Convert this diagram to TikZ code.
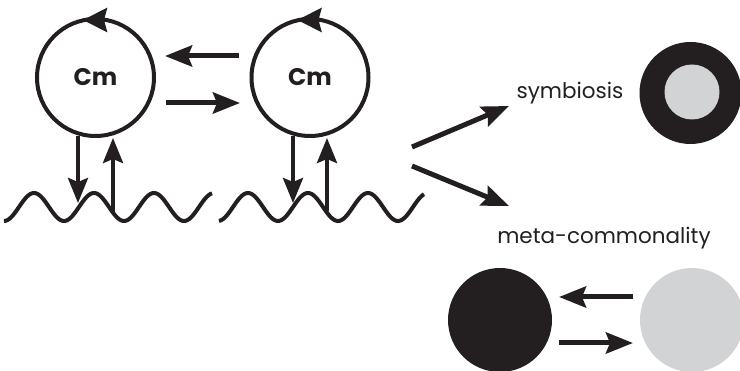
\documentclass[tikz,border=0pt]{standalone}
\usepackage{fontspec}
\setmainfont{Poppins}
\usetikzlibrary{arrows.meta}
\definecolor{ink}{HTML}{231F20}
\definecolor{pale}{HTML}{D1D3D4}
\tikzset{
  cell/.style={circle, draw=ink, line width=4pt, minimum size=117pt, inner sep=0pt, font=\bfseries\fontsize{24}{26}\selectfont, text=ink},
  flow/.style={draw=ink, line width=5pt, -{Stealth[length=27pt,width=21pt,inset=4pt]}},
  vflow/.style={draw=ink, line width=4pt, -{Stealth[length=25pt,width=20pt,inset=4pt]}},
  loop/.style={draw=ink, line width=4pt, -{Stealth[length=24pt,width=24pt,inset=3pt]}},
  wave/.style={draw=ink, line width=4pt},
  lbl/.style={font=\fontsize{21.5}{24}\selectfont, text=ink, inner sep=0pt},
  disc/.style={circle, minimum size=104pt, inner sep=0pt}
}
\begin{document}
\begin{tikzpicture}[x=1pt,y=-1pt]
\useasboundingbox (0,0) rectangle (740,371);
% cells
\node[cell] (c1) at (95.5,77.5) {Cm};
\node[cell] (c2) at (310,77.5) {Cm};
% loop arrow heads on top of circles
\coordinate (l1a) at (107,20);
\coordinate (l1b) at (83,20);
\draw[loop] (l1a) -- (l1b);
\coordinate (l2a) at (321.5,20);
\coordinate (l2b) at (297.5,20);
\draw[loop] (l2a) -- (l2b);
% exchange arrows between cells
\coordinate (h1s) at (239,56);
\coordinate (h1e) at (165,56);
\draw[flow] (h1s) -- (h1e);
\coordinate (h2s) at (166,103);
\coordinate (h2e) at (240,103);
\draw[flow] (h2s) -- (h2e);
% waves
\draw[wave] plot[domain=4:212, samples=120, smooth] (\x, {207-14*cos(6*(\x-34))});
\draw[wave] plot[domain=219:424, samples=120, smooth] (\x, {207-14*cos(6*(\x-248))});
% vertical arrows
\coordinate (d1e) at (78,203);
\coordinate (u1s) at (113,212);
\draw[vflow] (c1.south -| d1e) ++(0,-2) -- (d1e);
\draw[vflow] (u1s) -- (u1s |- c1.south);
\coordinate (d2e) at (293,203);
\coordinate (u2s) at (327,211);
\draw[vflow] (c2.south -| d2e) ++(0,-2) -- (d2e);
\draw[vflow] (u2s) -- (u2s |- c2.south);
% outcome arrows
\coordinate (o1) at (412,147);
\coordinate (o1e) at (509,106);
\coordinate (o2) at (412,166);
\coordinate (o2e) at (509,206);
\draw[flow] (o1) -- (o1e);
\draw[flow] (o2) -- (o2e);
% symbiosis
\node[lbl] (sym) at (570,93) {symbiosis};
\node[disc, fill=ink, minimum size=102pt] (host) at (690.5,93) {};
\node[disc, fill=pale, minimum size=55pt] (guest) at (692,92) {};
% meta-commonality
\node[lbl] (meta) at (604,238) {meta-commonality};
\node[disc, fill=ink] (m1) at (500,320) {};
\node[disc, fill=pale] (m2) at (692,320) {};
\coordinate (m1a) at (633,297);
\coordinate (m1b) at (559,297);
\draw[flow] (m1a) -- (m1b);
\coordinate (m2a) at (559,343);
\coordinate (m2b) at (633,343);
\draw[flow] (m2a) -- (m2b);
\end{tikzpicture}
\end{document}
